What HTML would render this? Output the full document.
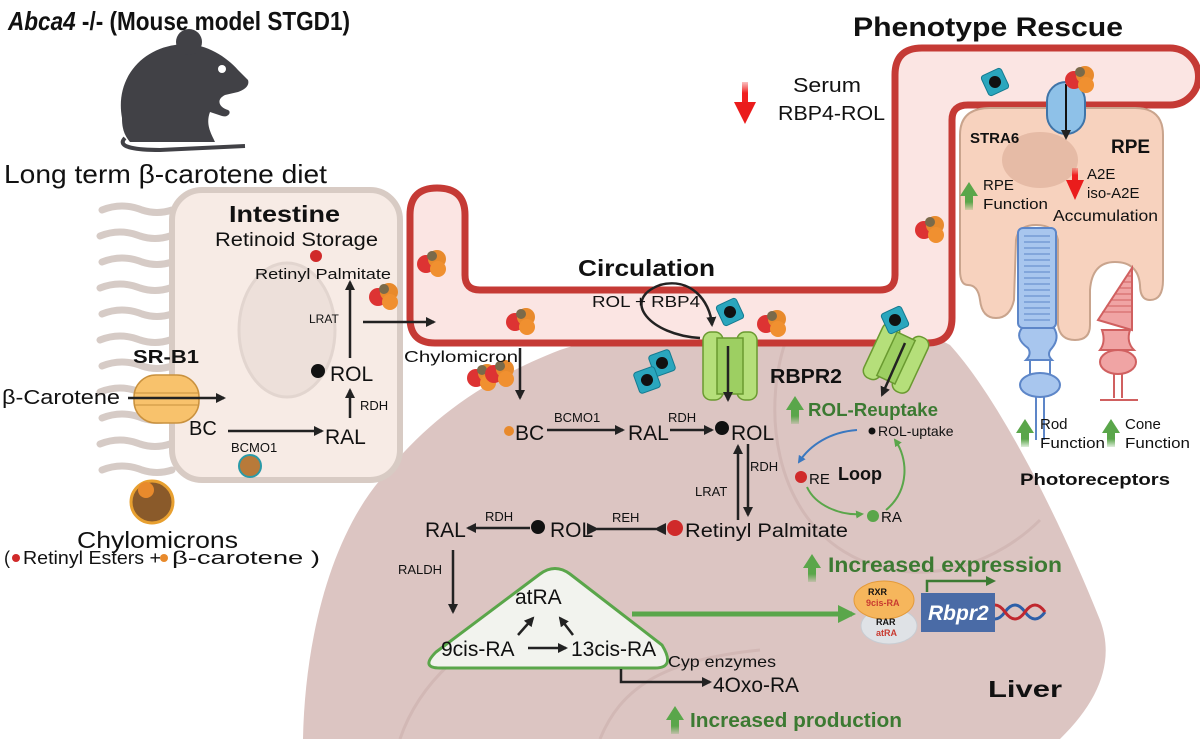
<!DOCTYPE html>
<html><head><meta charset="utf-8"><style>
html,body{margin:0;padding:0;background:#fff}
svg{display:block}
text{font-family:"Liberation Sans",sans-serif;fill:#111}
.b{font-weight:bold}
.g{fill:#3c7a32;font-weight:bold}
</style></head><body>
<svg width="1200" height="739" viewBox="0 0 1200 739" xmlns="http://www.w3.org/2000/svg">
<defs>
<marker id="ah" markerWidth="10" markerHeight="10" refX="8" refY="5" orient="auto" markerUnits="userSpaceOnUse"><path d="M0,0 L10,5 L0,10 Z" fill="#222"/></marker>
<marker id="ah2" markerWidth="12" markerHeight="12" refX="2" refY="6" orient="auto-start-reverse" markerUnits="userSpaceOnUse"><path d="M0,6 L12,0 L12,12 Z" fill="#222"/></marker>
<marker id="ahg" markerWidth="18" markerHeight="18" refX="14" refY="9" orient="auto" markerUnits="userSpaceOnUse"><path d="M0,0 L18,9 L0,18 Z" fill="#5aa64a"/></marker>
<marker id="ahgs" markerWidth="8" markerHeight="8" refX="6" refY="4" orient="auto" markerUnits="userSpaceOnUse"><path d="M0,0 L8,4 L0,8 Z" fill="#5aa64a"/></marker>
<marker id="ahb" markerWidth="8" markerHeight="8" refX="6" refY="4" orient="auto" markerUnits="userSpaceOnUse"><path d="M0,0 L8,4 L0,8 Z" fill="#3a78c0"/></marker>
<linearGradient id="gu" x1="0" y1="1" x2="0" y2="0"><stop offset="0" stop-color="#5aa64a" stop-opacity="0.2"/><stop offset="0.5" stop-color="#5aa64a"/></linearGradient>
<linearGradient id="rd" x1="0" y1="0" x2="0" y2="1"><stop offset="0" stop-color="#f03030" stop-opacity="0.3"/><stop offset="0.5" stop-color="#f02020"/></linearGradient>
<g id="up"><rect x="-4" y="6" width="8" height="16" fill="url(#gu)"/><path d="M-9,8 L0,-6 L9,8 Z" fill="#5aa64a"/></g>
<g id="rbp"><rect x="-11" y="-11" width="22" height="22" rx="3" fill="#2aa6bd" stroke="#147a90"/><circle r="6" fill="#111"/></g>
<g id="chy"><circle cx="-6" cy="2" r="9" fill="#d33"/><circle cx="5" cy="-3" r="9" fill="#e88a2c"/><circle cx="6" cy="7" r="8" fill="#f09030"/><circle cx="0" cy="-6" r="5" fill="#7a6a4a"/></g>
</defs>

<!-- Liver -->
<path d="M303,739 C305,640 330,540 380,480 C420,430 470,385 560,350 C620,330 720,320 820,322 C860,315 900,318 950,345 C1000,400 1060,520 1100,620 C1115,660 1100,700 1060,739 Z" fill="#dcc5c2"/>
<path d="M790,330 C760,400 770,520 860,560 C930,590 1000,560 1040,520" fill="none" stroke="#d2b8b5" stroke-width="3"/>
<path d="M600,739 C620,690 660,660 760,650" fill="none" stroke="#d2b8b5" stroke-width="3"/>
<path d="M400,739 C420,680 470,640 520,620" fill="none" stroke="#d2b8b5" stroke-width="3"/>

<!-- Villi -->
<g fill="none" stroke="#d6cbc6" stroke-width="7" stroke-linecap="round">
<path d="M102,210 q20,-8 40,0 q15,5 30,0"/><path d="M100,236 q20,-8 40,0 q15,5 30,0"/>
<path d="M102,262 q20,-8 40,0 q15,5 30,0"/><path d="M100,288 q20,-8 40,0 q15,5 30,0"/>
<path d="M102,314 q20,-8 40,0 q15,5 30,0"/><path d="M100,340 q20,-8 40,0 q15,5 30,0"/>
<path d="M102,366 q20,-8 40,0 q15,5 30,0"/><path d="M100,392 q20,-8 40,0 q15,5 30,0"/>
<path d="M102,418 q20,-8 40,0 q15,5 30,0"/><path d="M100,444 q20,-8 40,0 q15,5 30,0"/>
<path d="M102,470 q20,-8 40,0 q15,5 30,0"/>
</g>
<!-- Intestine cell -->
<rect x="172" y="190" width="228" height="290" rx="30" fill="#f7ebe5" stroke="#d8cbc4" stroke-width="6"/>
<ellipse cx="287" cy="330" rx="48" ry="67" fill="#ede0da" stroke="#e2d5cf" stroke-width="3"/>

<!-- Vessel -->
<path d="M410,215 Q410,188 437,188 Q465,188 465,215 L465,275 Q465,290 480,290 L880,290 Q895,290 895,275 L895,75 Q895,48 922,48 L1170,48 A28.5,28.5 0 0 1 1170,105 L968,105 Q952,105 952,120 L952,318 Q952,343 927,343 L435,343 Q410,343 410,318 Z" fill="#fbe5e3" stroke="#c53a35" stroke-width="7"/>

<!-- RPE cell -->
<path d="M960,135 Q960,108 990,108 L1135,108 Q1163,108 1163,135 L1163,280 Q1163,300 1150,300 Q1140,300 1140,285 Q1138,262 1115,262 Q1092,262 1090,290 L1090,325 Q1090,340 1075,340 Q1060,340 1058,325 L1058,240 Q1055,225 1036,225 Q1018,225 1016,240 L1014,300 Q1010,318 996,318 Q982,318 980,300 Q978,285 968,285 Q960,285 960,270 Z" fill="#f7d2be" stroke="#c9a48d" stroke-width="2"/>
<ellipse cx="1040" cy="160" rx="38" ry="28" fill="#e6bba6"/>
<rect x="1047" y="82" width="38" height="52" rx="19" fill="#8ec1e8" stroke="#3f74a8" stroke-width="2"/>
<line x1="1066" y1="84" x2="1066" y2="138" stroke="#111" stroke-width="2" marker-end="url(#ah)"/>
<!-- Rod -->
<g fill="#a8c6ee" stroke="#5d86c8" stroke-width="2">
<rect x="1018" y="228" width="38" height="100" rx="5"/>
<path d="M1022,328 q-8,10 6,20 q4,6 -2,12 L1052,360 q-6,-6 0,-12 q8,-10 2,-20 Z"/>
<path d="M1030,360 L1030,375 M1050,360 L1050,375"/>
<ellipse cx="1040" cy="385" rx="20" ry="12"/>
<path d="M1036,397 L1036,440 M1044,397 L1044,440"/>
</g>
<g stroke="#5d86c8" stroke-width="1"><path d="M1024,236 H1050 M1024,242 H1050 M1024,248 H1050 M1024,254 H1050 M1024,260 H1050 M1024,266 H1050 M1024,272 H1050 M1024,278 H1050 M1024,284 H1050 M1024,290 H1050 M1024,296 H1050 M1024,302 H1050 M1024,308 H1050 M1024,314 H1050 M1024,320 H1050"/></g>
<!-- Cone -->
<g fill="#f0a4a4" stroke="#d06060" stroke-width="2">
<path d="M1098,320 L1132,268 L1132,330 Z"/>
<path d="M1102,330 h28 q-4,12 4,20 l-34,0 q6,-8 2,-20 Z"/>
<ellipse cx="1118" cy="362" rx="18" ry="12"/>
<path d="M1114,374 L1114,398 M1122,374 L1122,398 M1100,400 L1138,400"/>
</g>
<g stroke="#d06060" stroke-width="1"><path d="M1110,300 H1132 M1114,294 H1132 M1118,288 H1132 M1122,282 H1132 M1126,276 H1132 M1106,306 H1132 M1102,312 H1132"/></g>

<!-- Mouse -->
<g fill="#414146">
<path d="M122,118 C115,80 140,50 175,45 C200,40 225,55 238,70 L248,80 C250,86 244,90 238,92 L225,95 C215,100 220,108 228,110 C232,112 228,118 222,116 L210,112 C205,125 212,135 215,142 L130,142 C124,135 122,128 122,118 Z"/>
<circle cx="189" cy="42" r="13"/>
<path d="M125,138 C115,148 140,150 160,150 L245,146" fill="none" stroke="#414146" stroke-width="4"/>
</g>
<circle cx="222" cy="69" r="4" fill="#fff"/>

<!-- Chylomicron particles -->
<use href="#chy" x="384" y="295"/>
<use href="#chy" x="432" y="262"/>
<use href="#chy" x="482" y="376"/>
<use href="#chy" x="500" y="372"/>
<use href="#chy" x="521" y="320"/>
<use href="#chy" x="772" y="322"/>
<use href="#chy" x="930" y="228"/>
<use href="#chy" x="1080" y="78"/>
<circle cx="250" cy="466" r="11" fill="#b87a3a" stroke="#2a9aa8" stroke-width="2"/>
<circle cx="152" cy="502" r="21" fill="#8a5a2a" stroke="#e8a030" stroke-width="3"/>
<circle cx="146" cy="490" r="8" fill="#e88a2c"/>

<!-- Transporters liver -->
<g fill="#b5df7a" stroke="#6a9a30" stroke-width="1.5">
<rect x="703" y="332" width="20" height="68" rx="8"/><rect x="737" y="332" width="20" height="68" rx="8"/><rect x="717" y="338" width="26" height="56" fill="#9dcf62"/>
</g>
<line x1="728" y1="346" x2="728" y2="400" stroke="#222" stroke-width="2.5" marker-end="url(#ah)"/>
<g transform="translate(896,358) rotate(25)">
<g fill="#b5df7a" stroke="#6a9a30" stroke-width="1.5"><rect x="-25" y="-30" width="18" height="60" rx="8"/><rect x="7" y="-30" width="18" height="60" rx="8"/><rect x="-10" y="-24" width="20" height="48" fill="#9dcf62"/></g>
</g>
<line x1="905" y1="343" x2="882" y2="395" stroke="#222" stroke-width="2.5" marker-end="url(#ah)"/>
<use href="#rbp" transform="translate(730,312) rotate(-25)"/>
<use href="#rbp" transform="translate(662,363) rotate(-20)"/>
<use href="#rbp" transform="translate(647,380) rotate(-20)"/>
<use href="#rbp" transform="translate(895,320) rotate(-25)"/>
<use href="#rbp" transform="translate(995,82) rotate(-25)"/>
<path d="M700,338 C650,335 620,300 660,285 C690,277 710,300 712,325" fill="none" stroke="#222" stroke-width="2.5" marker-end="url(#ah)"/>

<!-- Titles -->
<text x="8" y="30" font-size="26" class="b" textLength="342" lengthAdjust="spacingAndGlyphs"><tspan font-style="italic">Abca4</tspan> -/- (Mouse model STGD1)</text>
<text x="4" y="183" font-size="26" textLength="323" lengthAdjust="spacingAndGlyphs">Long term β-carotene diet</text>
<text x="853" y="36" font-size="27" class="b" textLength="270" lengthAdjust="spacingAndGlyphs">Phenotype Rescue</text>

<!-- Intestine labels -->
<text x="229" y="222" font-size="23" class="b" textLength="111" lengthAdjust="spacingAndGlyphs">Intestine</text>
<text x="215" y="246" font-size="19" textLength="163" lengthAdjust="spacingAndGlyphs">Retinoid Storage</text>
<circle cx="316" cy="256" r="6" fill="#d02a2a"/>
<text x="255" y="279" font-size="15" textLength="136" lengthAdjust="spacingAndGlyphs">Retinyl Palmitate</text>
<text x="309" y="323" font-size="12">LRAT</text>
<line x1="350" y1="358" x2="350" y2="282" stroke="#222" stroke-width="2.5" marker-end="url(#ah)"/>
<line x1="363" y1="322" x2="434" y2="322" stroke="#222" stroke-width="2.5" marker-end="url(#ah)"/>
<text x="133" y="363" font-size="18" class="b" textLength="66" lengthAdjust="spacingAndGlyphs">SR-B1</text>
<rect x="134" y="375" width="65" height="48" rx="22" fill="#f8c26c" stroke="#c9913e" stroke-width="1.5"/>
<line x1="134" y1="393" x2="199" y2="393" stroke="#c9913e"/><line x1="134" y1="405" x2="199" y2="405" stroke="#c9913e"/>
<text x="2" y="404" font-size="20" textLength="118" lengthAdjust="spacingAndGlyphs">β-Carotene</text>
<line x1="128" y1="398" x2="224" y2="398" stroke="#222" stroke-width="2.5" marker-end="url(#ah)"/>
<text x="189" y="435" font-size="20">BC</text>
<line x1="228" y1="431" x2="322" y2="431" stroke="#222" stroke-width="2.5" marker-end="url(#ah)"/>
<text x="325" y="444" font-size="21">RAL</text>
<text x="231" y="452" font-size="13">BCMO1</text>
<line x1="350" y1="418" x2="350" y2="390" stroke="#222" stroke-width="2.5" marker-end="url(#ah)"/>
<text x="360" y="410" font-size="13">RDH</text>
<circle cx="318" cy="371" r="7" fill="#111"/>
<text x="330" y="381" font-size="21">ROL</text>
<text x="77" y="548" font-size="23" textLength="161" lengthAdjust="spacingAndGlyphs">Chylomicrons</text>
<text x="4" y="564" font-size="18">(</text><circle cx="16" cy="558" r="4" fill="#d02a2a"/><text x="23" y="564" font-size="18" textLength="138" lengthAdjust="spacingAndGlyphs">Retinyl Esters + </text><circle cx="164" cy="558" r="4" fill="#e88a2c"/><text x="172" y="564" font-size="18" textLength="148" lengthAdjust="spacingAndGlyphs">β-carotene )</text>

<!-- Circulation -->
<text x="578" y="276" font-size="23" class="b" textLength="137" lengthAdjust="spacingAndGlyphs">Circulation</text>
<text x="592" y="307" font-size="16" textLength="108" lengthAdjust="spacingAndGlyphs">ROL + RBP4</text>
<text x="404" y="362" font-size="16" textLength="114" lengthAdjust="spacingAndGlyphs">Chylomicron</text>
<line x1="520" y1="348" x2="520" y2="398" stroke="#222" stroke-width="2.5" marker-end="url(#ah)"/>

<!-- Liver pathway -->
<circle cx="509" cy="431" r="5" fill="#e88a2c"/>
<text x="515" y="440" font-size="21">BC</text>
<text x="554" y="422" font-size="13">BCMO1</text>
<line x1="547" y1="430" x2="623" y2="430" stroke="#222" stroke-width="2.5" marker-end="url(#ah)"/>
<text x="628" y="440" font-size="21">RAL</text>
<text x="668" y="422" font-size="13">RDH</text>
<line x1="670" y1="430" x2="712" y2="430" stroke="#222" stroke-width="2.5" marker-end="url(#ah)"/>
<circle cx="722" cy="428" r="7" fill="#111"/>
<text x="731" y="440" font-size="21">ROL</text>
<line x1="738" y1="520" x2="738" y2="446" stroke="#222" stroke-width="2.5" marker-end="url(#ah)"/>
<line x1="748" y1="444" x2="748" y2="515" stroke="#222" stroke-width="2.5" marker-end="url(#ah)"/>
<text x="750" y="471" font-size="13">RDH</text>
<text x="695" y="496" font-size="13">LRAT</text>
<text x="425" y="537" font-size="21">RAL</text>
<line x1="530" y1="528" x2="468" y2="528" stroke="#222" stroke-width="2.5" marker-end="url(#ah)"/>
<text x="485" y="521" font-size="13">RDH</text>
<circle cx="538" cy="527" r="7" fill="#111"/>
<text x="550" y="537" font-size="21">ROL</text>
<line x1="597" y1="529" x2="656" y2="529" stroke="#222" stroke-width="2.5" marker-start="url(#ah2)" marker-end="url(#ah2)"/>
<text x="612" y="522" font-size="13">REH</text>
<circle cx="675" cy="528" r="8" fill="#d02a2a"/>
<text x="685" y="537" font-size="19" textLength="163" lengthAdjust="spacingAndGlyphs">Retinyl Palmitate</text>
<text x="398" y="574" font-size="13">RALDH</text>
<line x1="453" y1="550" x2="453" y2="612" stroke="#222" stroke-width="2.5" marker-end="url(#ah)"/>

<!-- Triangle -->
<path d="M440,668 Q420,668 436,652 L540,574 Q555,563 570,574 L662,645 Q676,668 655,668 Z" fill="#f2f3ee" stroke="#5aa64a" stroke-width="3"/>
<text x="515" y="604" font-size="21">atRA</text>
<text x="441" y="656" font-size="21">9cis-RA</text>
<text x="571" y="656" font-size="21">13cis-RA</text>
<line x1="528" y1="648" x2="566" y2="648" stroke="#222" stroke-width="2.5" marker-end="url(#ah)"/>
<line x1="518" y1="635" x2="533" y2="618" stroke="#222" stroke-width="2.5" marker-end="url(#ah)"/>
<line x1="573" y1="635" x2="560" y2="618" stroke="#222" stroke-width="2.5" marker-end="url(#ah)"/>
<line x1="632" y1="614" x2="852" y2="614" stroke="#5aa64a" stroke-width="5" marker-end="url(#ahg)"/>
<text x="668" y="667" font-size="16" textLength="108" lengthAdjust="spacingAndGlyphs">Cyp enzymes</text>
<path d="M621,669 L621,682 L710,682" fill="none" stroke="#222" stroke-width="2.5" marker-end="url(#ah)"/>
<text x="713" y="692" font-size="21" textLength="86" lengthAdjust="spacingAndGlyphs">4Oxo-RA</text>
<use href="#up" x="675" y="712"/>
<text x="690" y="727" font-size="20" class="g" textLength="212" lengthAdjust="spacingAndGlyphs">Increased production</text>

<!-- RBPR2 loop -->
<text x="770" y="383" font-size="20" class="b" textLength="72" lengthAdjust="spacingAndGlyphs">RBPR2</text>
<use href="#up" x="795" y="402"/>
<text x="808" y="416" font-size="18" class="g" textLength="130" lengthAdjust="spacingAndGlyphs">ROL-Reuptake</text>
<circle cx="872" cy="431" r="3.5" fill="#111"/>
<text x="878" y="436" font-size="14">ROL-uptake</text>
<path d="M857,430 C830,432 810,445 799,462" fill="none" stroke="#3a78c0" stroke-width="2" marker-end="url(#ahb)"/>
<path d="M807,487 C815,505 840,516 862,514" fill="none" stroke="#5aa64a" stroke-width="2" marker-end="url(#ahgs)"/>
<path d="M886,510 C910,490 908,458 895,440" fill="none" stroke="#5aa64a" stroke-width="2" marker-end="url(#ahgs)"/>
<text x="838" y="480" font-size="18" class="b">Loop</text>
<circle cx="801" cy="477" r="6" fill="#d02a2a"/>
<text x="809" y="484" font-size="15">RE</text>
<circle cx="873" cy="516" r="6" fill="#5aa64a"/>
<text x="881" y="522" font-size="15">RA</text>
<use href="#up" x="812" y="560"/>
<text x="828" y="572" font-size="21" class="g" textLength="234" lengthAdjust="spacingAndGlyphs">Increased expression</text>

<!-- Gene -->
<path d="M925,612 q10,-14 20,0 t20,0 t20,0 t20,0 t20,0 t20,0" fill="none" stroke="#2d5fa8" stroke-width="3"/>
<path d="M925,612 q10,14 20,0 t20,0 t20,0 t20,0 t20,0 t20,0" fill="none" stroke="#c0282e" stroke-width="3"/>
<ellipse cx="889" cy="626" rx="28" ry="18" fill="#dfe2e6" stroke="#c8ccd2"/>
<ellipse cx="884" cy="600" rx="30" ry="19" fill="#f6b65c" stroke="#e39a3a"/>
<text x="868" y="595" font-size="9" class="b">RXR</text>
<text x="866" y="606" font-size="9" class="b" style="fill:#c83a30">9cis-RA</text>
<text x="876" y="625" font-size="9" class="b">RAR</text>
<text x="876" y="636" font-size="9" class="b" style="fill:#c83a30">atRA</text>
<rect x="921" y="593" width="74" height="39" fill="#4a6ba6"/>
<text x="928" y="620" font-size="21" font-style="italic" class="b" style="fill:#fff">Rbpr2</text>
<path d="M927,592 L927,581 L988,581" fill="none" stroke="#3c7a32" stroke-width="2.5"/>
<path d="M986,576 L996,581 L986,586 Z" fill="#3c7a32"/>
<text x="988" y="697" font-size="23" class="b" textLength="74" lengthAdjust="spacingAndGlyphs">Liver</text>

<!-- Phenotype rescue labels -->
<rect x="742" y="82" width="6" height="22" fill="url(#rd)"/>
<path d="M734,102 L745,124 L756,102 Z" fill="#ea1c1c"/>
<text x="793" y="92" font-size="20" textLength="68" lengthAdjust="spacingAndGlyphs">Serum</text>
<text x="778" y="120" font-size="20" textLength="107" lengthAdjust="spacingAndGlyphs">RBP4-ROL</text>
<text x="970" y="143" font-size="15" class="b">STRA6</text>
<text x="1111" y="153" font-size="19" class="b">RPE</text>
<use href="#up" x="969" y="188"/>
<text x="983" y="190" font-size="15">RPE</text>
<text x="983" y="209" font-size="15" textLength="65" lengthAdjust="spacingAndGlyphs">Function</text>
<rect x="1072" y="168" width="6" height="14" fill="url(#rd)"/>
<path d="M1066,180 L1075,200 L1084,180 Z" fill="#ea1c1c"/>
<text x="1087" y="179" font-size="15">A2E</text>
<text x="1087" y="198" font-size="15">iso-A2E</text>
<text x="1053" y="221" font-size="16" textLength="105" lengthAdjust="spacingAndGlyphs">Accumulation</text>
<use href="#up" x="1025" y="425"/>
<text x="1040" y="429" font-size="15">Rod</text>
<text x="1040" y="448" font-size="15" textLength="65" lengthAdjust="spacingAndGlyphs">Function</text>
<use href="#up" x="1111" y="425"/>
<text x="1125" y="429" font-size="15">Cone</text>
<text x="1125" y="448" font-size="15" textLength="65" lengthAdjust="spacingAndGlyphs">Function</text>
<text x="1020" y="485" font-size="17" class="b" textLength="150" lengthAdjust="spacingAndGlyphs">Photoreceptors</text>
</svg>
</body></html>
